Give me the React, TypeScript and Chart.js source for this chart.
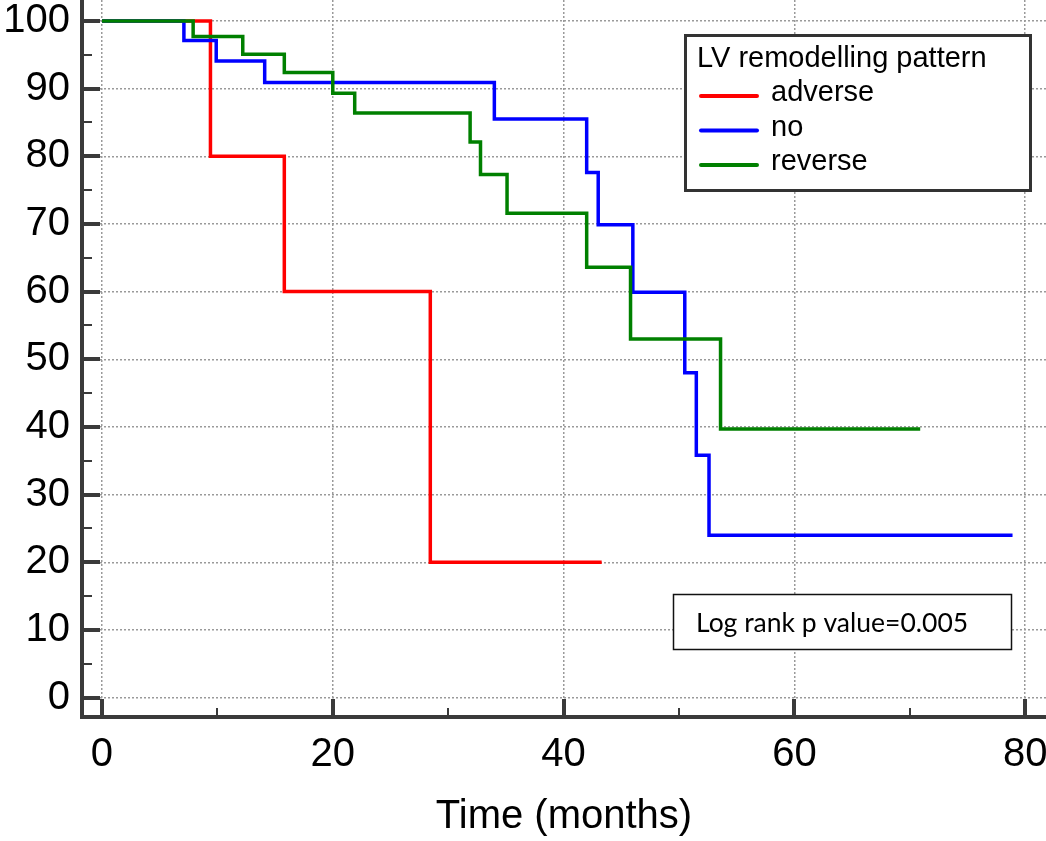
import React, { useEffect, useRef } from 'react';
import { Chart, registerables } from 'chart.js';

Chart.register(...registerables);

// ---- Data (Kaplan–Meier steps) ----
const seriesNames = ['adverse', 'no', 'reverse'];
const seriesColors = ['#ff0000', '#0000ff', '#008000'];

const adverseTime = [0, 9.4, 15.8, 28.45, 43.3];
const adverseSurvival = [100, 80, 60, 20, 20];

const noTime = [0, 7.1, 9.9, 14.1, 34.0, 42.0, 43.0, 46.0, 50.5, 51.5, 52.6, 78.9];
const noSurvival = [100, 97.1, 94.1, 90.9, 85.5, 77.6, 69.9, 59.9, 48.0, 35.8, 24.0, 24.0];

const reverseTime = [0, 7.9, 12.2, 15.8, 20.0, 21.9, 31.9, 32.8, 35.1, 42.0, 45.8, 53.6, 70.9];
const reverseSurvival = [100, 97.7, 95.1, 92.4, 89.3, 86.4, 82.1, 77.3, 71.6, 63.6, 53.0, 39.7, 39.7];

const xTickValues = [0, 20, 40, 60, 80];
const xMinorTickValues = [10, 30, 50, 70];
const yTickValues = [0, 10, 20, 30, 40, 50, 60, 70, 80, 90, 100];
const yMinorTickValues = [5, 15, 25, 35, 45, 55, 65, 75, 85, 95];

const xAxisTitle = 'Time (months)';
const legendTitle = 'LV remodelling pattern';
const annotationText = 'Log rank p value=0.005';

const FONT = '"Liberation Sans", Arial, sans-serif';
const AXIS_COLOR = '#3a3a3a';

const toPoints = (t: number[], s: number[]) => t.map((x, i) => ({ x, y: s[i] }));

const overlayPlugin = {
  id: 'kmOverlay',
  afterDraw(chart: any) {
    const { ctx, chartArea, scales } = chart;
    const xs = scales.x;
    const ys = scales.y;
    ctx.save();
    ctx.strokeStyle = AXIS_COLOR;
    ctx.lineCap = 'butt';
    // inward y ticks
    const drawY = (v: number, len: number, w: number) => {
      const py = Math.round(ys.getPixelForValue(v));
      ctx.lineWidth = w;
      ctx.beginPath();
      ctx.moveTo(chartArea.left, py);
      ctx.lineTo(chartArea.left + len, py);
      ctx.stroke();
    };
    yTickValues.forEach((v) => drawY(v, 18, 4));
    yMinorTickValues.forEach((v) => drawY(v, 10, 2));
    // inward x ticks
    const drawX = (v: number, len: number, w: number) => {
      const px = Math.round(xs.getPixelForValue(v));
      ctx.lineWidth = w;
      ctx.beginPath();
      ctx.moveTo(px, chartArea.bottom);
      ctx.lineTo(px, chartArea.bottom - len);
      ctx.stroke();
    };
    xTickValues.forEach((v) => drawX(v, 18, 4));
    xMinorTickValues.forEach((v) => drawX(v, 9, 2));

    // legend box
    const lx = 685, ly = 35, lw = 345, lh = 155;
    ctx.fillStyle = '#ffffff';
    ctx.fillRect(lx, ly, lw, lh);
    ctx.lineWidth = 3;
    ctx.strokeStyle = '#333333';
    ctx.strokeRect(lx + 0.5, ly + 0.5, lw, lh);
    ctx.fillStyle = '#000000';
    ctx.font = `29px ${FONT}`;
    ctx.textBaseline = 'middle';
    ctx.textAlign = 'left';
    ctx.fillText(legendTitle, 697, 59);
    chart.data.datasets.forEach((ds: any, i: number) => {
      const y = 96 + i * 34.5;
      ctx.strokeStyle = ds.borderColor;
      ctx.lineWidth = 4;
      ctx.lineCap = 'round';
      ctx.beginPath();
      ctx.moveTo(701, y);
      ctx.lineTo(757, y);
      ctx.stroke();
      ctx.fillStyle = '#000000';
      ctx.fillText(ds.label, 771, y - 3);
    });

    // annotation box
    const ax = 673, ay = 594, aw = 338, ah = 55;
    ctx.fillStyle = '#ffffff';
    ctx.fillRect(ax, ay, aw, ah);
    ctx.lineWidth = 1.5;
    ctx.strokeStyle = '#111111';
    ctx.lineCap = 'butt';
    ctx.strokeRect(ax + 0.5, ay + 0.5, aw, ah);
    ctx.fillStyle = '#000000';
    ctx.font = `26.5px Lato, "Open Sans", sans-serif`;
    ctx.fillText(annotationText, 696, 623);
    ctx.restore();
  },
};

export default function App() {
  const canvasRef = useRef<HTMLCanvasElement | null>(null);

  useEffect(() => {
    const canvas = canvasRef.current;
    if (!canvas) return;
    const series = [
      toPoints(adverseTime, adverseSurvival),
      toPoints(noTime, noSurvival),
      toPoints(reverseTime, reverseSurvival),
    ];
    const chart = new Chart(canvas, {
      type: 'line',
      data: {
        datasets: series.map((data, i) => ({
          label: seriesNames[i],
          data,
          borderColor: seriesColors[i],
          backgroundColor: seriesColors[i],
          borderWidth: 3.5,
          stepped: 'before' as const,
          pointRadius: 0,
          fill: false,
          order: 3 - i,
          borderCapStyle: 'butt' as const,
          borderJoinStyle: 'miter' as const,
        })),
      },
      options: {
        animation: false,
        responsive: false,
        devicePixelRatio: 1,
        layout: { padding: 0 },
        plugins: {
          legend: { display: false },
          tooltip: { enabled: false },
          title: { display: false },
        },
        scales: {
          x: {
            type: 'linear',
            min: -1.73,
            max: 81.8,
            afterBuildTicks: (scale: any) => {
              scale.ticks = xTickValues.map((value) => ({ value }));
            },
            afterFit: (scale: any) => {
              scale.height = 124;
              scale.paddingLeft = 0;
              scale.paddingRight = 0;
              scale.paddingTop = 0;
              scale.paddingBottom = 0;
            },
            ticks: {
              color: '#000000',
              font: { family: FONT, size: 40 },
              padding: 14,
              maxRotation: 0,
              autoSkip: false,
            },
            grid: {
              color: '#9a9a9a',
              lineWidth: 1.5,
              drawTicks: false,
            },
            border: {
              display: true,
              color: AXIS_COLOR,
              width: 4,
              dash: [2, 2],
            },
            title: {
              display: true,
              text: xAxisTitle,
              color: '#000000',
              font: { family: FONT, size: 40 },
              padding: { top: 0, bottom: 0 },
            },
          },
          y: {
            type: 'linear',
            min: -2.87,
            max: 103.1,
            afterBuildTicks: (scale: any) => {
              scale.ticks = yTickValues.map((value) => ({ value }));
            },
            afterFit: (scale: any) => {
              scale.width = 82;
              scale.paddingLeft = 0;
              scale.paddingRight = 0;
              scale.paddingTop = 0;
              scale.paddingBottom = 0;
            },
            ticks: {
              color: '#000000',
              font: { family: FONT, size: 40 },
              padding: 12,
              autoSkip: false,
            },
            grid: {
              color: '#9a9a9a',
              lineWidth: 1.5,
              drawTicks: false,
            },
            border: {
              display: true,
              color: AXIS_COLOR,
              width: 4,
              dash: [2, 2],
            },
          },
        },
      },
      plugins: [overlayPlugin],
    } as any);
    return () => chart.destroy();
  }, []);

  return (
    <div style={{ position: 'fixed', left: 0, top: 0, width: 1046, height: 841, background: '#ffffff' }}>
      <canvas ref={canvasRef} width={1046} height={841} style={{ display: 'block' }} />
    </div>
  );
}
